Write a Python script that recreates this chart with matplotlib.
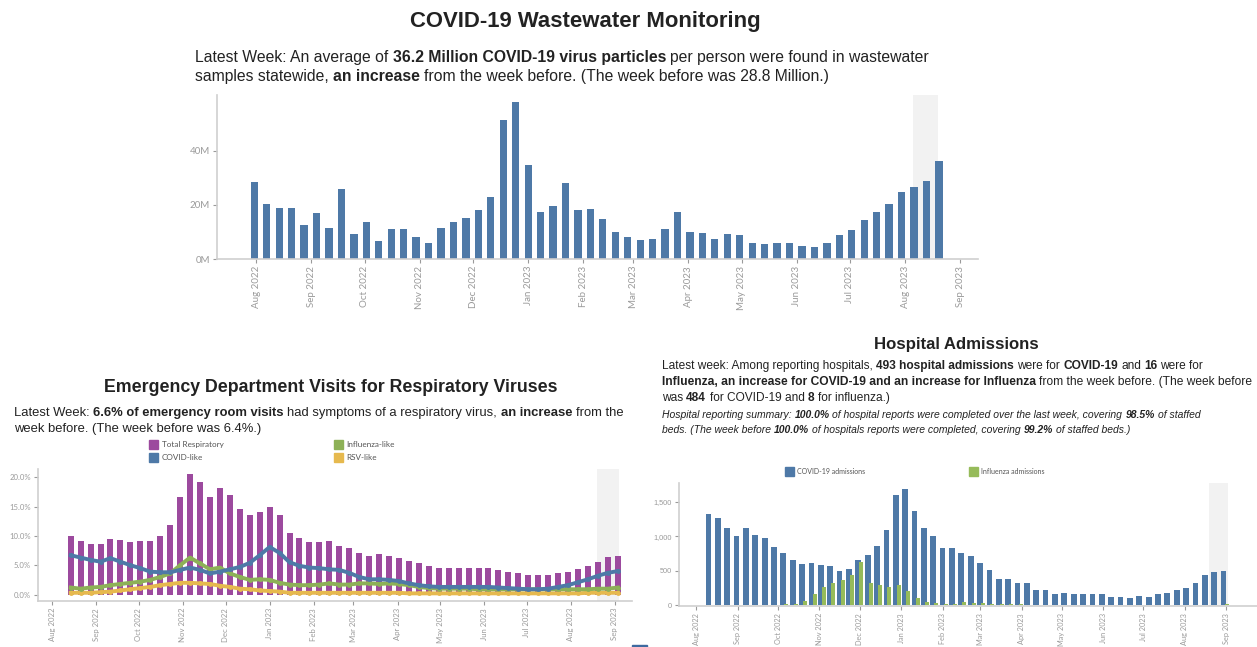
import matplotlib
matplotlib.use('Agg')
import matplotlib.pyplot as plt
import matplotlib.dates as mdates
from matplotlib.patches import Rectangle
import pandas as pd

# ---------------- data ----------------
ww_dates = pd.date_range('2022-07-31', periods=56, freq='7D')
ww_values = [28.4, 20.4, 18.8, 18.8, 12.7, 16.9, 11.5, 25.9, 9.1, 13.6, 6.7, 10.9, 10.9, 8.0,
             5.9, 11.5, 13.6, 15.2, 18.0, 22.8, 51.2, 57.8, 34.6, 17.2, 19.6, 28.1, 18.0, 18.5,
             14.9, 9.9, 8.3, 6.9, 7.5, 10.9, 17.2, 10.1, 9.6, 7.5, 9.4, 8.9, 5.9, 5.4,
             5.9, 5.9, 4.8, 4.3, 5.9, 8.9, 10.6, 14.3, 17.4, 20.4, 24.6, 26.7, 28.8, 36.2]
ww_yticks = [0, 20, 40]
ww_yticklabels = ['0M', '20M', '40M']

ed_dates = pd.date_range('2022-08-14', periods=56, freq='7D')
ed_total = [9.9, 9.1, 8.7, 8.6, 9.5, 9.3, 9.0, 9.1, 9.1, 10.0, 11.9, 16.7, 20.5, 19.2,
            16.6, 18.1, 16.9, 14.5, 13.5, 14.1, 14.9, 13.6, 10.5, 9.6, 8.9, 8.9, 9.1, 8.3,
            7.9, 7.1, 6.6, 6.9, 6.6, 6.3, 5.7, 5.3, 4.9, 4.6, 4.6, 4.6, 4.6, 4.5,
            4.5, 4.2, 3.9, 3.6, 3.4, 3.4, 3.3, 3.7, 3.9, 4.3, 4.9, 5.5, 6.4, 6.6]
ed_covid = [6.7, 6.3, 5.9, 5.6, 6.2, 5.6, 5.0, 4.5, 3.9, 3.8, 3.8, 4.2, 4.6, 4.2,
            3.6, 3.9, 4.3, 4.7, 5.4, 6.7, 8.1, 7.1, 5.5, 4.9, 4.6, 4.5, 4.3, 4.2,
            3.7, 3.0, 2.6, 2.6, 2.5, 2.3, 1.9, 1.6, 1.4, 1.3, 1.3, 1.3, 1.3, 1.3,
            1.3, 1.2, 1.1, 1.0, 0.9, 0.9, 1.0, 1.3, 1.6, 2.1, 2.6, 3.2, 3.7, 4.0]
ed_flu = [1.2, 1.0, 1.2, 1.3, 1.6, 1.8, 2.0, 2.2, 2.5, 3.0, 3.6, 5.0, 6.3, 5.3,
          4.3, 4.6, 3.6, 3.0, 2.5, 2.6, 2.5, 2.0, 1.7, 1.6, 1.6, 1.7, 1.9, 1.7,
          1.7, 1.9, 1.9, 1.8, 1.9, 1.8, 1.6, 1.3, 1.1, 1.0, 1.0, 1.0, 1.0, 0.9,
          0.9, 0.9, 0.9, 0.9, 0.9, 0.9, 0.9, 0.9, 0.9, 0.9, 0.9, 1.0, 1.0, 1.2]
ed_rsv = [0.3, 0.3, 0.3, 0.4, 0.5, 0.7, 0.9, 1.1, 1.3, 1.6, 1.8, 2.0, 2.0, 1.9,
          1.8, 1.5, 1.3, 1.0, 0.9, 0.7, 0.6, 0.5, 0.3, 0.3, 0.3, 0.3, 0.3, 0.3,
          0.3, 0.3, 0.3, 0.3, 0.3, 0.3, 0.2, 0.2, 0.2, 0.2, 0.2, 0.2, 0.2, 0.2,
          0.2, 0.2, 0.2, 0.2, 0.2, 0.2, 0.2, 0.2, 0.2, 0.2, 0.3, 0.3, 0.3, 0.3]
ed_labels = ['Total Respiratory', 'COVID-like', 'Influenza-like', 'RSV-like']
ed_yticks = [0, 5, 10, 15, 20]

hosp_dates = pd.date_range('2022-08-10', periods=56, freq='7D')
hosp_covid = [1325, 1272, 1117, 1005, 1126, 1015, 981, 850, 752, 655, 597, 621, 583, 568,
              495, 534, 655, 728, 859, 1092, 1602, 1684, 1374, 1117, 1005, 835, 835, 762,
              714, 617, 510, 388, 388, 330, 325, 228, 218, 170, 184, 170, 170, 160,
              160, 121, 121, 102, 141, 121, 170, 184, 228, 252, 330, 437, 484, 493]
hosp_flu = [0, 5, 0, 3, 0, 3, 0, 5, 15, 25, 58, 170, 267, 330,
            364, 437, 631, 325, 301, 267, 301, 209, 112, 53, 34, 24, 20, 48,
            40, 30, 22, 15, 22, 18, 12, 8, 8, 6, 5, 5, 4, 4,
            3, 3, 3, 3, 3, 3, 3, 3, 4, 5, 6, 7, 8, 16]
hosp_labels = ['COVID-19 admissions', 'Influenza admissions']
hosp_yticks = [0, 500, 1000, 1500]

# ---------------- colours ----------------
BLUE = '#4e79a7'
PURPLE = '#9c4a9e'
GREEN = '#8db157'
YELLOW = '#e6b94e'
HGREEN = '#96bb5a'
BAND = '#f2f2f2'
TICK = '#9a9a9a'
SPINE = '#cfcfcf'
TXT = '#222222'
TFONT = 'Liberation Sans'
AFONT = 'Lato'

W, H = 1257, 647
fig = plt.figure(figsize=(W / 100, H / 100), dpi=100)
fig.patch.set_facecolor('white')
renderer = fig.canvas.get_renderer()


def ax_px(l, t, r, b):
    return fig.add_axes([l / W, 1 - b / H, (r - l) / W, (b - t) / H])


def measure(s, **kw):
    t = fig.text(0, 0, s, **kw)
    w = t.get_window_extent(renderer=renderer).width
    t.remove()
    return w


def rich(x, y, parts, size, color=TXT, family=TFONT):
    xs = x
    for txt, bold, ital in parts:
        kw = dict(fontsize=size, fontweight='bold' if bold else 'normal',
                  fontstyle='italic' if ital else 'normal', family=family)
        sp = measure('a a', **kw) - measure('aa', **kw)
        lead = len(txt) - len(txt.lstrip(' '))
        trail = len(txt) - len(txt.rstrip(' '))
        core = txt.strip(' ')
        xs += lead * sp
        if core:
            fig.text(xs / W, 1 - y / H, core, va='baseline', ha='left', color=color, **kw)
            xs += measure(core, **kw)
        xs += trail * sp


def style(ax, xlim, ylim, yticks, ylabels, fs):
    ax.set_xlim(pd.Timestamp(xlim[0]), pd.Timestamp(xlim[1]))
    ax.set_ylim(*ylim)
    for s in ['top', 'right']:
        ax.spines[s].set_visible(False)
    for s in ['left', 'bottom']:
        ax.spines[s].set_color(SPINE)
        ax.spines[s].set_linewidth(1.2)
    ax.xaxis.set_major_locator(mdates.MonthLocator())
    ax.xaxis.set_major_formatter(mdates.DateFormatter('%b %Y'))
    ax.set_yticks(yticks)
    ax.set_yticklabels(ylabels)
    ax.tick_params(axis='x', rotation=90, labelsize=fs, colors=TICK, length=3, width=0.8, pad=2)
    ax.tick_params(axis='y', labelsize=fs, colors=TICK, length=3, width=0.8, pad=2)
    for lab in ax.get_xticklabels() + ax.get_yticklabels():
        lab.set_family(AFONT)
    ax.set_facecolor('none')


D = pd.Timedelta

# ---------------- wastewater ----------------
ax1 = ax_px(217, 95, 978, 259)
ax1.axvspan(ww_dates[-3] - D(days=0.7), ww_dates[-1] - D(days=0.7), color=BAND, zorder=0, lw=0)
ax1.bar(ww_dates, ww_values, width=4.1, color=BLUE, zorder=2)
style(ax1, ('2022-07-10', '2023-09-11'), (0, 60.5), ww_yticks, ww_yticklabels, 7.0)

fig.text(585 / W, 1 - 22 / H, 'COVID-19 Wastewater Monitoring', ha='center', va='center',
         fontsize=15.9, fontweight='bold', color=TXT, family=TFONT)
rich(195, 62, [('Latest Week: An average of ', False, False),
               ('36.2 Million COVID-19 virus particles', True, False),
               (' per person were found in wastewater', False, False)], 11.35)
rich(195, 81, [('samples statewide, ', False, False), ('an increase', True, False),
               (' from the week before. (The week before was 28.8 Million.)', False, False)], 11.35)

# ---------------- emergency department ----------------
ax2 = ax_px(38, 469, 632, 601)
ax2.axvspan(ed_dates[-3] - D(days=0.4), ed_dates[-1] + D(days=0.5), color=BAND, zorder=0, lw=0)
ax2.bar(ed_dates, ed_total, width=4.2, color=PURPLE, zorder=2)
ax2.plot(ed_dates, ed_rsv, color=YELLOW, lw=2.8, marker='o', ms=2.5, zorder=3)
ax2.plot(ed_dates, ed_flu, color=GREEN, lw=2.8, marker='o', ms=2.5, zorder=4)
ax2.plot(ed_dates, ed_covid, color=BLUE, lw=2.8, marker='o', ms=2.5, zorder=5)
style(ax2, ('2022-07-22', '2023-09-13'), (-1.1, 21.4), ed_yticks,
      ['%.1f%%' % v for v in ed_yticks], 5.6)

fig.text(331 / W, 1 - 387 / H, 'Emergency Department Visits for Respiratory Viruses',
         ha='center', va='center', fontsize=12.8, fontweight='bold', color=TXT, family=TFONT)
rich(14, 416, [('Latest Week: ', False, False), ('6.6% of emergency room visits', True, False),
               (' had symptoms of a respiratory virus, ', False, False), ('an increase', True, False),
               (' from the', False, False)], 9.35)
rich(14, 432, [('week before. (The week before was 6.4%.)', False, False)], 9.35)

ed_colors = [PURPLE, BLUE, GREEN, YELLOW]
ed_leg_pos = [(149, 440), (149, 452.5), (334, 440), (334, 452.5)]
for lab, col, (lx, ly) in zip(ed_labels, ed_colors, ed_leg_pos):
    fig.patches.append(Rectangle((lx / W, 1 - (ly + 9) / H), 9 / W, 9 / H,
                                 transform=fig.transFigure, color=col))
    fig.text((lx + 12.5) / W, 1 - (ly + 4.5) / H, lab, va='center', ha='left',
             fontsize=5.9, color='#555555', family=AFONT)

# ---------------- hospital ----------------
ax3 = ax_px(679, 483, 1257, 606)
ax3.axvspan(hosp_dates[-2] - D(days=4), hosp_dates[-1] + D(days=3.5), color=BAND, zorder=0, lw=0)
ax3.bar(hosp_dates, hosp_covid, width=4.3, color=BLUE, zorder=2)
ax3.bar(hosp_dates + D(days=2.3), hosp_flu, width=3.0, color=HGREEN, zorder=3)
style(ax3, ('2022-07-19', '2023-09-24'), (-8, 1772), hosp_yticks,
      ['{:,}'.format(v) for v in hosp_yticks], 5.3)
for lab in ax3.get_yticklabels():
    lab.set_family(TFONT)

fig.text(956 / W, 1 - 345 / H, 'Hospital Admissions', ha='center', va='center',
         fontsize=12.1, fontweight='bold', color=TXT, family=TFONT)
rich(662, 369, [('Latest week: Among reporting hospitals, ', False, False),
                ('493 hospital admissions', True, False), (' were for ', False, False),
                ('COVID-19', True, False), (' and ', False, False), ('16', True, False),
                (' were for', False, False)], 8.55)
rich(662, 385, [('Influenza, an increase for COVID-19 and an increase for Influenza', True, False),
                (' from the week before. (The week before', False, False)], 8.65)
rich(662, 401, [('was ', False, False), ('484', True, False), (' for COVID-19 and ', False, False),
                ('8', True, False), (' for influenza.)', False, False)], 8.6)
rich(662, 418, [('Hospital reporting summary: ', False, True), ('100.0%', True, True),
                (' of hospital reports were completed over the last week, covering ', False, True),
                ('98.5%', True, True), (' of staffed', False, True)], 7.5)
rich(662, 433, [('beds. (The week before ', False, True), ('100.0%', True, True),
                (' of hospitals reports were completed, covering ', False, True),
                ('99.2%', True, True), (' of staffed beds.)', False, True)], 7.5)

hosp_colors = [BLUE, HGREEN]
hosp_leg_pos = [(785, 467), (969, 467)]
for lab, col, (lx, ly) in zip(hosp_labels, hosp_colors, hosp_leg_pos):
    fig.patches.append(Rectangle((lx / W, 1 - (ly + 9) / H), 9 / W, 9 / H,
                                 transform=fig.transFigure, color=col))
    fig.text((lx + 12) / W, 1 - (ly + 4.5) / H, lab, va='center', ha='left',
             fontsize=5.0, color='#555555', family=AFONT)

# small scroll marker at bottom
fig.patches.append(Rectangle((632 / W, 0), 15 / W, 2.5 / H, transform=fig.transFigure,
                             color='#3d6aa0'))

fig.savefig('out.png', dpi=100)
